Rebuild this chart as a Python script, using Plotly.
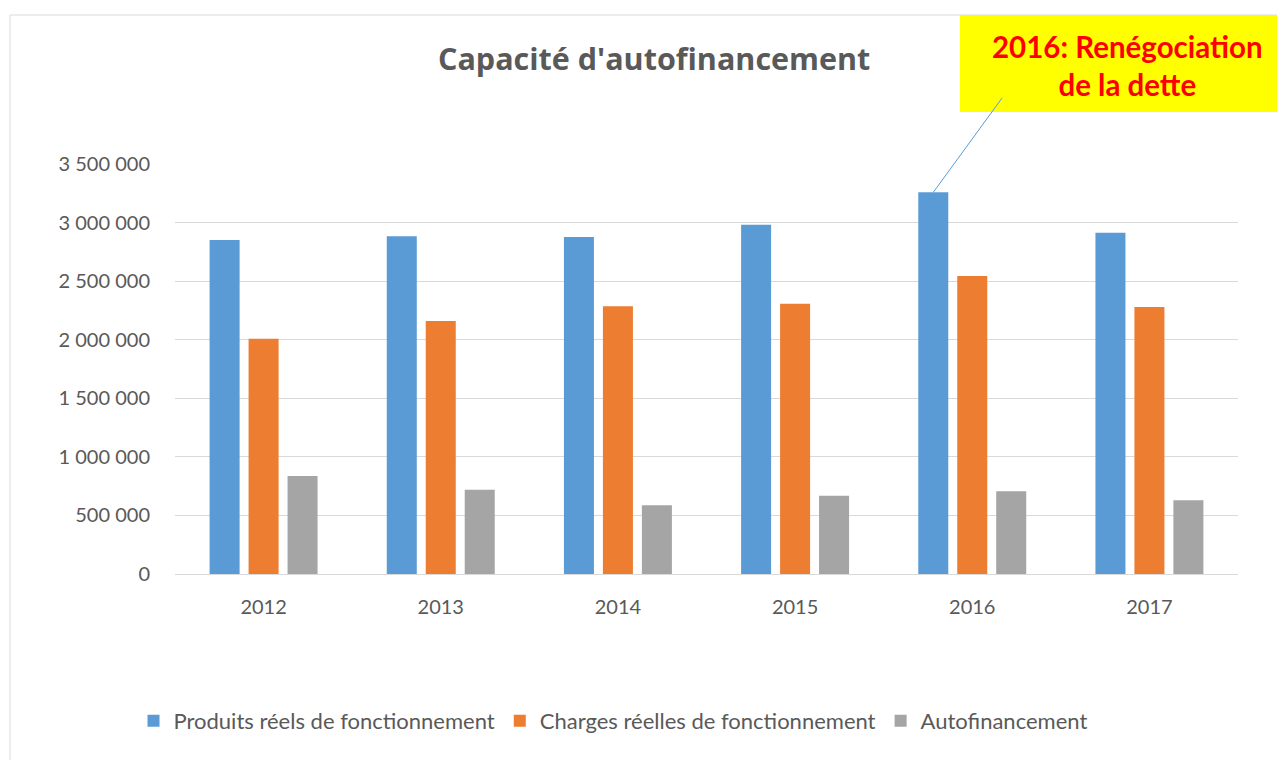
import plotly.graph_objects as go

years = ["2012", "2013", "2014", "2015", "2016", "2017"]
produits = [2851000, 2883000, 2877000, 2982000, 3258000, 2914000]
charges = [2009000, 2160000, 2285000, 2308000, 2544000, 2279000]
autofin = [837000, 720000, 586000, 669000, 706000, 629000]

names = ["Produits réels de fonctionnement", "Charges réelles de fonctionnement", "Autofinancement"]
colors = ["#5B9BD5", "#ED7D31", "#A5A5A5"]

OFF = 8  # page body margin
W, H = 1285 - OFF, 760 - OFF
L, R, T, B = 175 - OFF, 47, 164 - OFF, 186
pw, ph = W - L - R, H - T - B


def px(x):
    return (x - OFF - L) / pw


def py(y):
    return (H - B - (y - OFF)) / ph


FONT = "Lato"

fig = go.Figure()
for name, vals, col in zip(names, [produits, charges, autofin], colors):
    fig.add_trace(go.Bar(x=years, y=vals, name=name, marker=dict(color=col, line=dict(width=0))))

fig.update_layout(
    width=W, height=H,
    margin=dict(l=L, r=R, t=T, b=B),
    paper_bgcolor="white", plot_bgcolor="white",
    barmode="group", bargap=0.34, bargroupgap=0.23,
    separators=", ",
    font=dict(family=FONT, size=20, color="#595959"),
    showlegend=True,
    legend=dict(orientation="h", x=px(613), y=py(721), xanchor="center", yanchor="middle",
                font=dict(size=22, color="#595959"), itemwidth=30, tracegroupgap=0),
    xaxis=dict(showgrid=False, showline=True, linecolor="#D9D9D9", linewidth=1,
               ticks="", ticklabelstandoff=15, tickfont=dict(size=20, color="#595959")),
    yaxis=dict(range=[0, 3500000], dtick=500000, tickformat=",d", showgrid=True,
               gridcolor="#D9D9D9", gridwidth=1, zeroline=False, showline=False,
               ticklabelstandoff=24, tickfont=dict(size=20, color="#595959")),
)

shapes = [
    dict(type="rect", xref="paper", yref="paper", x0=px(10), x1=px(1300), y0=py(800), y1=py(15),
         line=dict(color="#D9D9D9", width=1), fillcolor="rgba(0,0,0,0)", layer="below"),
    dict(type="rect", xref="paper", yref="paper", x0=px(960), x1=px(1300), y0=py(112), y1=py(15),
         line=dict(width=0), fillcolor="#FFFF00", layer="above"),
]
fig.update_layout(shapes=shapes)

# leader line from the 2016 blue bar top to the callout box
fig.add_annotation(x=4 - 0.22, y=produits[4], xref="x", yref="y", text="",
                   showarrow=True, arrowhead=0, arrowwidth=1, arrowcolor="#5B9BD5",
                   ax=70, ay=-96, axref="pixel", ayref="pixel", standoff=0, startstandoff=0)

fig.add_annotation(text="<b>Capacité d'autofinancement</b>", xref="paper", yref="paper",
                   x=px(654), y=py(58), showarrow=False, xanchor="center", yanchor="middle",
                   font=dict(family="Open Sans", size=30.5, color="#595959"))
fig.add_annotation(text="<b>2016: Renégociation<br>de la dette</b>", xref="paper", yref="paper",
                   x=px(1127), y=py(65), showarrow=False, xanchor="center", yanchor="middle",
                   align="center", font=dict(family=FONT, size=29.5, color="#FF0000"))

fig.write_html("out.html")
